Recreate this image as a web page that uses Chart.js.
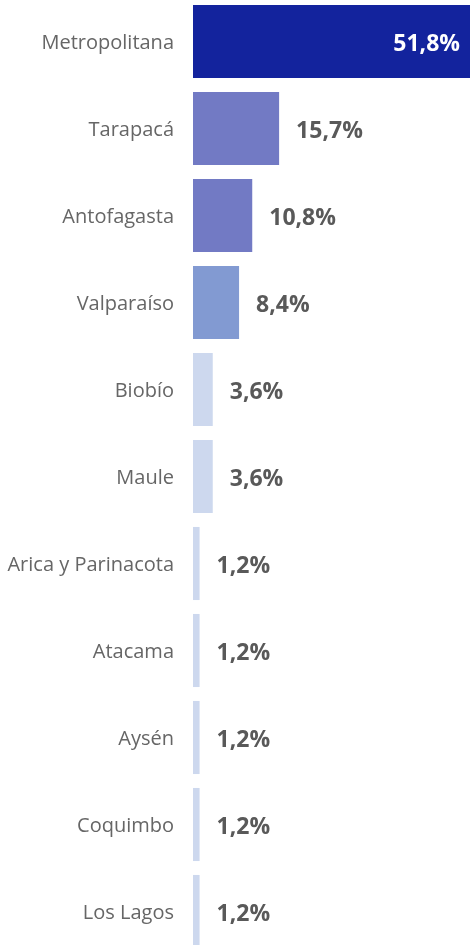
<!DOCTYPE html>
<html>
<head>
<meta charset="utf-8">
<script src="https://cdn.jsdelivr.net/npm/chart.js@4/dist/chart.umd.min.js"></script>
<style>
html,body{margin:0;padding:0;background:#fff;overflow:hidden;width:470px;height:945px;}
#c{position:absolute;left:0;top:-2px;}
</style>
</head>
<body>
<canvas id="c" width="470" height="957" style="width:470px;height:957px;"></canvas>
<script>
const categories = ["Metropolitana","Tarapacá","Antofagasta","Valparaíso","Biobío","Maule","Arica y Parinacota","Atacama","Aysén","Coquimbo","Los Lagos"];
const values = [51.8,15.7,10.8,8.4,3.6,3.6,1.2,1.2,1.2,1.2,1.2];
const valueLabels = ["51,8%","15,7%","10,8%","8,4%","3,6%","3,6%","1,2%","1,2%","1,2%","1,2%","1,2%"];
const barColors = ["#13239d","#727ac4","#727ac4","#829ad2","#cdd8ee","#cdd8ee","#cdd8ee","#cdd8ee","#cdd8ee","#cdd8ee","#cdd8ee"];

const valuePlugin = {
  id: 'valueLabels',
  afterDatasetsDraw(chart) {
    const ctx = chart.ctx;
    const meta = chart.getDatasetMeta(0);
    const area = chart.chartArea;
    ctx.save();
    ctx.font = 'bold 23px "Open Sans", sans-serif';
    ctx.textBaseline = 'middle';
    meta.data.forEach((bar, i) => {
      const txt = valueLabels[i];
      const w = ctx.measureText(txt).width;
      const endX = Math.min(bar.x, area.right);
      if (endX + 17 + w > area.right) {
        ctx.fillStyle = '#ffffff';
        ctx.textAlign = 'right';
        ctx.fillText(txt, area.right - 10, bar.y + 3);
      } else {
        ctx.fillStyle = '#595959';
        ctx.textAlign = 'left';
        ctx.fillText(txt, endX + 17, bar.y + 3);
      }
    });
    ctx.restore();
  }
};

new Chart(document.getElementById('c'), {
  type: 'bar',
  data: {
    labels: categories,
    datasets: [{
      data: values,
      backgroundColor: barColors,
      borderWidth: 0,
      barPercentage: 0.84,
      categoryPercentage: 1.0
    }]
  },
  options: {
    indexAxis: 'y',
    responsive: false,
    maintainAspectRatio: false,
    animation: false,
    devicePixelRatio: 1,
    layout: { padding: 0 },
    plugins: { legend: { display: false }, tooltip: { enabled: false } },
    scales: {
      x: {
        min: 0, max: 50.5,
        display: false,
        grid: { display: false }
      },
      y: {
        grid: { display: false, drawTicks: false },
        border: { display: false },
        ticks: {
          color: '#666666',
          padding: 19,
          labelOffset: 2,
          font: { family: '"Open Sans", sans-serif', size: 20 }
        },
        afterFit(scale) { scale.width = 193; scale.paddingTop = 0; scale.paddingBottom = 0; }
      }
    }
  },
  plugins: [valuePlugin]
});
</script>
</body>
</html>
